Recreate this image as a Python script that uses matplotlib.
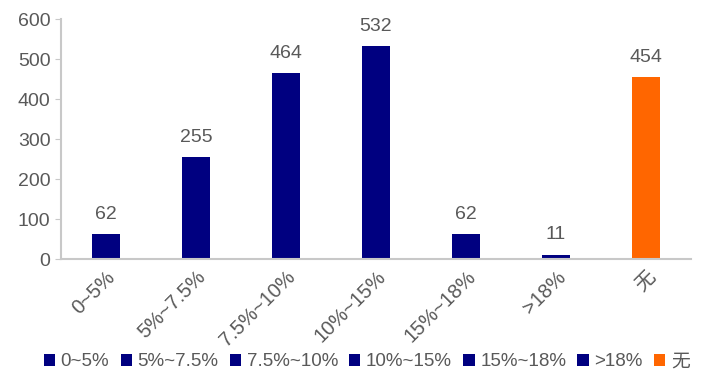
import matplotlib.pyplot as plt

plt.rcParams['font.family'] = ['Liberation Sans', 'Noto Sans CJK SC', 'DejaVu Sans']

categories = ['0~5%', '5%~7.5%', '7.5%~10%', '10%~15%', '15%~18%', '>18%', '无']
values = [62, 255, 464, 532, 62, 11, 454]
colors = ['#000080'] * 6 + ['#FF6600']

grey = '#595959'
fig = plt.figure(figsize=(7.08, 3.81), dpi=100)
ax = fig.add_axes([0.086, 0.32, 0.89, 0.63])

for i, (c, v, col) in enumerate(zip(categories, values, colors)):
    ax.bar(i, v, width=0.31, color=col, label=c)
    ax.text(i, v + 28, str(v), ha='center', va='bottom', fontsize=14, color=grey)

ax.set_xlim(-0.5, len(categories) - 0.5)
ax.set_ylim(0, 600)
ax.set_yticks(range(0, 601, 100))
ax.set_xticks(range(len(categories)))
ax.set_xticklabels(categories, rotation=45, ha='right', rotation_mode='anchor')

for s in ['top', 'right']:
    ax.spines[s].set_visible(False)
for s in ['left', 'bottom']:
    ax.spines[s].set_color('#c8c8c8')
    ax.spines[s].set_linewidth(1.5)
ax.tick_params(axis='y', colors='#c8c8c8', labelcolor=grey, labelsize=14, length=4)
ax.tick_params(axis='x', length=0, labelcolor=grey, labelsize=14.5, pad=6)

fig.legend(loc='center', bbox_to_anchor=(0.518, 0.05), ncol=7, frameon=False,
           fontsize=13.5, labelcolor=grey, handlelength=0.6, handleheight=0.6,
           handletextpad=0.3, columnspacing=0.6, borderaxespad=0)

fig.savefig('out.png')
